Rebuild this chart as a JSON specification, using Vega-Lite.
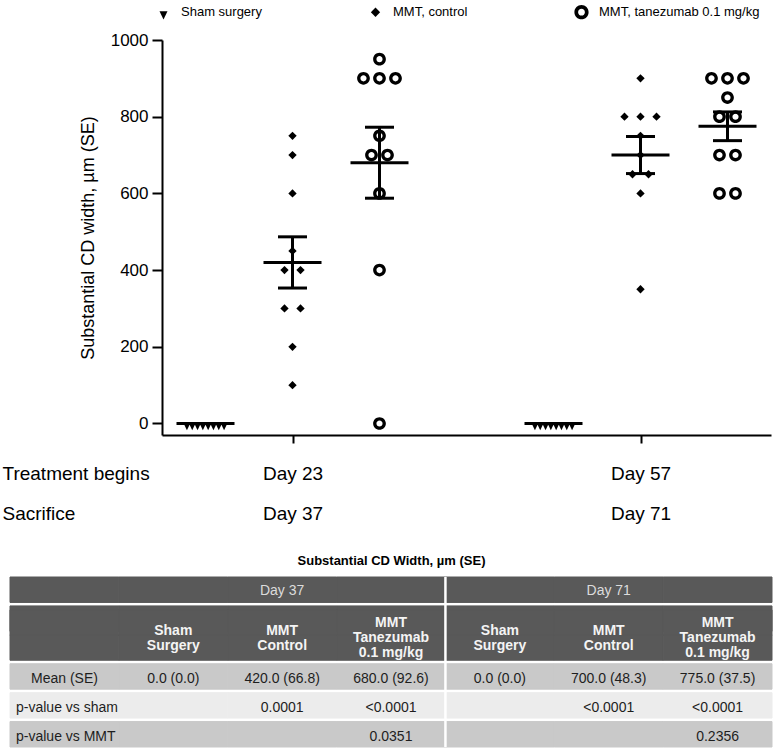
{
  "$schema": "https://vega.github.io/schema/vega-lite/v6.json",
  "background": "white",
  "padding": {"left": 2, "top": 4, "right": 2, "bottom": 1},
  "bounds": "flush",
  "spacing": 142,
  "resolve": {
    "scale": {"x": "independent", "y": "independent", "shape": "independent", "fill": "independent"},
    "legend": {"shape": "independent"}
  },
  "config": {
    "font": "Liberation Sans",
    "view": {"stroke": null},
    "axis": {
      "domainColor": "black", "tickColor": "black", "labelColor": "black", "titleColor": "black",
      "domainWidth": 2, "tickWidth": 2, "grid": false, "titleFontWeight": "normal"
    }
  },
  "vconcat": [
    {
      "width": 609,
      "height": 395,
      "data": {"values": [
        {"day": "Day 37", "group": "Sham surgery", "value": 0},
        {"day": "Day 37", "group": "Sham surgery", "value": 0},
        {"day": "Day 37", "group": "Sham surgery", "value": 0},
        {"day": "Day 37", "group": "Sham surgery", "value": 0},
        {"day": "Day 37", "group": "Sham surgery", "value": 0},
        {"day": "Day 37", "group": "Sham surgery", "value": 0},
        {"day": "Day 37", "group": "Sham surgery", "value": 0},
        {"day": "Day 37", "group": "Sham surgery", "value": 0},
        {"day": "Day 37", "group": "MMT, control", "value": 750},
        {"day": "Day 37", "group": "MMT, control", "value": 700},
        {"day": "Day 37", "group": "MMT, control", "value": 600},
        {"day": "Day 37", "group": "MMT, control", "value": 450},
        {"day": "Day 37", "group": "MMT, control", "value": 400},
        {"day": "Day 37", "group": "MMT, control", "value": 400},
        {"day": "Day 37", "group": "MMT, control", "value": 300},
        {"day": "Day 37", "group": "MMT, control", "value": 300},
        {"day": "Day 37", "group": "MMT, control", "value": 200},
        {"day": "Day 37", "group": "MMT, control", "value": 100},
        {"day": "Day 37", "group": "MMT, tanezumab 0.1 mg/kg", "value": 950},
        {"day": "Day 37", "group": "MMT, tanezumab 0.1 mg/kg", "value": 900},
        {"day": "Day 37", "group": "MMT, tanezumab 0.1 mg/kg", "value": 900},
        {"day": "Day 37", "group": "MMT, tanezumab 0.1 mg/kg", "value": 900},
        {"day": "Day 37", "group": "MMT, tanezumab 0.1 mg/kg", "value": 750},
        {"day": "Day 37", "group": "MMT, tanezumab 0.1 mg/kg", "value": 700},
        {"day": "Day 37", "group": "MMT, tanezumab 0.1 mg/kg", "value": 700},
        {"day": "Day 37", "group": "MMT, tanezumab 0.1 mg/kg", "value": 600},
        {"day": "Day 37", "group": "MMT, tanezumab 0.1 mg/kg", "value": 400},
        {"day": "Day 37", "group": "MMT, tanezumab 0.1 mg/kg", "value": 0},
        {"day": "Day 71", "group": "Sham surgery", "value": 0},
        {"day": "Day 71", "group": "Sham surgery", "value": 0},
        {"day": "Day 71", "group": "Sham surgery", "value": 0},
        {"day": "Day 71", "group": "Sham surgery", "value": 0},
        {"day": "Day 71", "group": "Sham surgery", "value": 0},
        {"day": "Day 71", "group": "Sham surgery", "value": 0},
        {"day": "Day 71", "group": "Sham surgery", "value": 0},
        {"day": "Day 71", "group": "Sham surgery", "value": 0},
        {"day": "Day 71", "group": "MMT, control", "value": 900},
        {"day": "Day 71", "group": "MMT, control", "value": 800},
        {"day": "Day 71", "group": "MMT, control", "value": 800},
        {"day": "Day 71", "group": "MMT, control", "value": 800},
        {"day": "Day 71", "group": "MMT, control", "value": 750},
        {"day": "Day 71", "group": "MMT, control", "value": 700},
        {"day": "Day 71", "group": "MMT, control", "value": 650},
        {"day": "Day 71", "group": "MMT, control", "value": 650},
        {"day": "Day 71", "group": "MMT, control", "value": 600},
        {"day": "Day 71", "group": "MMT, control", "value": 350},
        {"day": "Day 71", "group": "MMT, tanezumab 0.1 mg/kg", "value": 900},
        {"day": "Day 71", "group": "MMT, tanezumab 0.1 mg/kg", "value": 900},
        {"day": "Day 71", "group": "MMT, tanezumab 0.1 mg/kg", "value": 900},
        {"day": "Day 71", "group": "MMT, tanezumab 0.1 mg/kg", "value": 850},
        {"day": "Day 71", "group": "MMT, tanezumab 0.1 mg/kg", "value": 800},
        {"day": "Day 71", "group": "MMT, tanezumab 0.1 mg/kg", "value": 800},
        {"day": "Day 71", "group": "MMT, tanezumab 0.1 mg/kg", "value": 700},
        {"day": "Day 71", "group": "MMT, tanezumab 0.1 mg/kg", "value": 700},
        {"day": "Day 71", "group": "MMT, tanezumab 0.1 mg/kg", "value": 600},
        {"day": "Day 71", "group": "MMT, tanezumab 0.1 mg/kg", "value": 600}
      ]},
      "transform": [
        {"calculate": "(datum.day == 'Day 71' ? 4 : 0) + indexof(['Sham surgery', 'MMT, control', 'MMT, tanezumab 0.1 mg/kg'], datum.group)", "as": "pos"}
      ],
      "layer": [
        {
          "transform": [
            {"window": [{"op": "row_number", "as": "idx"}], "groupby": ["pos", "value"]},
            {"joinaggregate": [{"op": "count", "as": "n"}], "groupby": ["pos", "value"]},
            {"calculate": "datum.pos + (datum.idx - (datum.n + 1) / 2) * (datum.group == 'Sham surgery' ? 0.061 : 0.184)", "as": "px"}
          ],
          "mark": {"type": "point", "filled": true, "fill": "black", "strokeWidth": 0, "size": 169, "opacity": 1},
          "encoding": {
            "x": {
              "field": "px", "type": "quantitative",
              "scale": {"domain": [-0.5, 6.5], "nice": false, "zero": false},
              "axis": {
                "values": [1, 5], "tickSize": 8,
                "labelExpr": "datum.value == 1 ? ['Day 23', 'Day 37'] : ['Day 57', 'Day 71']",
                "labelFontSize": 19, "labelLineHeight": 40, "labelPadding": 21,
                "labelFlush": false, "labelOverlap": false,
                "title": ["Treatment begins", "Sacrifice"],
                "titleFontSize": 19, "titleLineHeight": 40, "titleX": -160, "titleY": 29,
                "titleAlign": "left", "titleBaseline": "top", "titleFontWeight": "normal"
              }
            },
            "y": {
              "field": "value", "type": "quantitative",
              "scale": {"domain": [-30, 1000], "nice": false, "zero": false},
              "axis": {
                "values": [0, 200, 400, 600, 800, 1000], "format": "d", "tickSize": 10, "labelPadding": 4,
                "labelFontSize": 17, "title": "Substantial CD width, µm (SE)",
                "titleFontSize": 18, "titlePadding": 13, "titleFontWeight": "normal"
              }
            },
            "shape": {
              "field": "group", "type": "nominal",
              "scale": {
                "domain": ["Sham surgery", "MMT, control", "MMT, tanezumab 0.1 mg/kg"],
                "range": [
                  "M -0.55 -0.1 L 0.55 -0.1 L 0 1.05 Z",
                  "M 0 -0.64 L 0.64 0 L 0 0.64 L -0.64 0 Z",
                  "M 0 -0.98 A 0.98 0.98 0 1 1 0 0.98 A 0.98 0.98 0 1 1 0 -0.98 Z M 0 -0.47 A 0.47 0.47 0 1 0 0 0.47 A 0.47 0.47 0 1 0 0 -0.47 Z"
                ]
              },
              "legend": {
                "title": null, "orient": "none", "legendX": -6, "legendY": -36,
                "direction": "horizontal", "columnPadding": 106, "labelLimit": 0,
                "labelFontSize": 13, "labelColor": "black", "labelOffset": 10,
                "padding": 0, "symbolSize": 210, "symbolFillColor": "black", "symbolStrokeWidth": 0
              }
            }
          }
        },
        {
          "transform": [
            {"aggregate": [
              {"op": "mean", "field": "value", "as": "mean"},
              {"op": "stderr", "field": "value", "as": "se"}
            ], "groupby": ["pos"]},
            {"calculate": "datum.mean - datum.se", "as": "lo"},
            {"calculate": "datum.mean + datum.se", "as": "hi"}
          ],
          "layer": [
            {
              "mark": {"type": "rule", "color": "black", "strokeWidth": 3},
              "encoding": {
                "x": {"field": "pos", "type": "quantitative"},
                "y": {"field": "lo", "type": "quantitative"},
                "y2": {"field": "hi"}
              }
            },
            {
              "mark": {"type": "tick", "orient": "horizontal", "size": 29, "thickness": 3, "color": "black", "opacity": 1},
              "encoding": {
                "x": {"field": "pos", "type": "quantitative"},
                "y": {"field": "lo", "type": "quantitative"}
              }
            },
            {
              "mark": {"type": "tick", "orient": "horizontal", "size": 29, "thickness": 3, "color": "black", "opacity": 1},
              "encoding": {
                "x": {"field": "pos", "type": "quantitative"},
                "y": {"field": "hi", "type": "quantitative"}
              }
            },
            {
              "mark": {"type": "tick", "orient": "horizontal", "size": 58, "thickness": 3, "color": "black", "opacity": 1},
              "encoding": {
                "x": {"field": "pos", "type": "quantitative"},
                "y": {"field": "mean", "type": "quantitative"}
              }
            }
          ]
        }
      ]
    },
    {
      "width": 609,
      "height": 170,
      "title": {
        "text": "Substantial CD Width, µm (SE)", "fontSize": 13, "fontWeight": "bold",
        "color": "black", "anchor": "middle", "dx": -75, "offset": 8
      },
      "data": {"values": [
        {"row": "h1", "col": ["lab", "s37", "c37", "t37", "s71", "c71", "t71"], "text": ["", "", "Day 37", "", "", "Day 71", ""]},
        {"row": "h2a", "col": ["lab", "s37", "c37", "t37", "s71", "c71", "t71"], "text": ["", "Sham\nSurgery", "MMT\nControl", "MMT\nTanezumab\n0.1 mg/kg", "Sham\nSurgery", "MMT\nControl", "MMT\nTanezumab\n0.1 mg/kg"]},
        {"row": "h2b", "col": ["lab", "s37", "c37", "t37", "s71", "c71", "t71"], "text": ["", "", "", "", "", "", ""]},
        {"row": "mean", "col": ["lab", "s37", "c37", "t37", "s71", "c71", "t71"], "text": ["Mean (SE)", "0.0 (0.0)", "420.0 (66.8)", "680.0 (92.6)", "0.0 (0.0)", "700.0 (48.3)", "775.0 (37.5)"]},
        {"row": "sham", "col": ["lab", "s37", "c37", "t37", "s71", "c71", "t71"], "text": ["p-value vs sham", "", "0.0001", "<0.0001", "", "<0.0001", "<0.0001"]},
        {"row": "mmt", "col": ["lab", "s37", "c37", "t37", "s71", "c71", "t71"], "text": ["p-value vs MMT", "", "", "0.0351", "", "", "0.2356"]}
      ]},
      "transform": [{"flatten": ["col", "text"]}],
      "layer": [
        {
          "mark": {"type": "rect", "strokeWidth": 1},
          "encoding": {
            "x": {"field": "col", "type": "nominal", "scale": {"domain": ["lab", "s37", "c37", "t37", "s71", "c71", "t71"], "range": [-152, 610], "paddingInner": 0, "paddingOuter": 0}, "axis": null},
            "y": {"field": "row", "type": "nominal", "scale": {"domain": ["h1", "h2a", "h2b", "mean", "sham", "mmt"], "paddingInner": 0.12, "paddingOuter": 0}, "axis": null},
            "fill": {"field": "row", "type": "nominal", "scale": {"domain": ["h1", "h2a", "h2b", "mean", "sham", "mmt"], "range": ["#595959", "#595959", "#595959", "#c9c9c9", "#ececec", "#c9c9c9"]}, "legend": null},
            "stroke": {"field": "row", "type": "nominal", "scale": {"domain": ["h1", "h2a", "h2b", "mean", "sham", "mmt"], "range": ["#595959", "#595959", "#595959", "#c9c9c9", "#ececec", "#c9c9c9"]}, "legend": null}
          }
        },
        {
          "transform": [{"filter": "datum.row == 'h2a'"}],
          "mark": {"type": "rect", "fill": "#595959", "stroke": "#595959", "strokeWidth": 1, "yOffset": 4},
          "encoding": {
            "x": {"field": "col", "type": "nominal", "axis": null},
            "y": {"field": "row", "type": "nominal", "axis": null}
          }
        },
        {
          "transform": [{"filter": "datum.row == 'h1' && datum.col == 's71'"}],
          "mark": {"type": "rule", "color": "white", "strokeWidth": 2.5},
          "encoding": {
            "x": {"field": "col", "type": "nominal", "bandPosition": 0, "axis": null}
          }
        },
        {
          "transform": [{"filter": "datum.row == 'h1' && datum.text != ''"}],
          "mark": {"type": "text", "fontSize": 14, "color": "#dcdcdc", "yOffset": 1},
          "encoding": {
            "x": {"field": "col", "type": "nominal", "axis": null},
            "y": {"field": "row", "type": "nominal", "axis": null},
            "text": {"field": "text", "type": "nominal"}
          }
        },
        {
          "transform": [{"filter": "datum.row == 'h2a' && datum.text != '' && indexof(datum.text, 'Tanezumab') < 0"}],
          "mark": {"type": "text", "fontSize": 14, "fontWeight": "bold", "color": "#f4f4f4", "lineBreak": "\n", "lineHeight": 15, "baseline": "middle", "yOffset": 0},
          "encoding": {
            "x": {"field": "col", "type": "nominal", "axis": null},
            "y": {"field": "row", "type": "nominal", "bandPosition": 1, "axis": null},
            "text": {"field": "text", "type": "nominal"}
          }
        },
        {
          "transform": [{"filter": "datum.row == 'h2a' && indexof(datum.text, 'Tanezumab') >= 0"}],
          "mark": {"type": "text", "fontSize": 14, "fontWeight": "bold", "color": "#f4f4f4", "lineBreak": "\n", "lineHeight": 15, "baseline": "middle", "yOffset": -8},
          "encoding": {
            "x": {"field": "col", "type": "nominal", "axis": null},
            "y": {"field": "row", "type": "nominal", "bandPosition": 1, "axis": null},
            "text": {"field": "text", "type": "nominal"}
          }
        },
        {
          "transform": [{"filter": "(datum.row == 'mean' || datum.row == 'sham' || datum.row == 'mmt') && datum.text != '' && (datum.col != 'lab' || datum.row == 'mean')"}],
          "mark": {"type": "text", "fontSize": 14, "color": "#1e1e1e", "yOffset": 3},
          "encoding": {
            "x": {"field": "col", "type": "nominal", "axis": null},
            "y": {"field": "row", "type": "nominal", "axis": null},
            "text": {"field": "text", "type": "nominal"}
          }
        },
        {
          "transform": [{"filter": "datum.col == 'lab' && (datum.row == 'sham' || datum.row == 'mmt')"}],
          "mark": {"type": "text", "fontSize": 14, "color": "#1e1e1e", "align": "left", "dx": 6, "yOffset": 3},
          "encoding": {
            "x": {"field": "col", "type": "nominal", "bandPosition": 0, "axis": null},
            "y": {"field": "row", "type": "nominal", "axis": null},
            "text": {"field": "text", "type": "nominal"}
          }
        }
      ]
    }
  ]
}
